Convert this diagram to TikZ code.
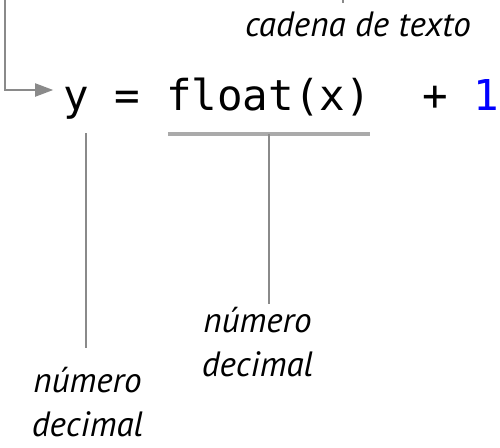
\documentclass[tikz,border=0pt]{standalone}
\usepackage{fontspec}
\setmonofont{DejaVu Sans Mono}
\newfontfamily\notefont{PT Sans}
\usepackage{tikz}
\usepackage{xcolor}
\usetikzlibrary{arrows.meta,positioning,calc}
\definecolor{ink}{HTML}{000000}
\definecolor{leadgray}{HTML}{8A8A8A}
\definecolor{bargray}{HTML}{AAAAAA}
\definecolor{litblue}{HTML}{0000FF}
\tikzset{
  codetxt/.style={font=\ttfamily\fontsize{24.2}{29}\selectfont,
                  inner sep=0pt,anchor=base west,text=ink},
  note/.style={font=\notefont\itshape\fontsize{20}{25}\selectfont,
               align=center,inner sep=0pt,text=ink},
  leader/.style={draw=leadgray,line width=1.1pt},
  leadarr/.style={leader,-{Triangle[length=3.6mm,width=2.6mm]}},
  underbar/.style={draw=bargray,line width=2.4pt}
}

\begin{document}
\begin{tikzpicture}[x=0.02cm,y=-0.02cm]
    \path[use as bounding box] (0,0) rectangle (500,447);
    \node[codetxt] (yv) at (63.2,110) {y};
    \node[codetxt] (eq) at (114.5,110) {=};
    \node[codetxt] (flt) at (165.8,110) {float(x)};
    \node[codetxt] (plus) at (422.3,110) {+};
    \node[codetxt,text=litblue] (one) at (473.6,110) {1};

    \node[note,anchor=base] (str) at (358,36) {cadena de texto};
    \coordinate (strtop) at (343,0);
    \draw[leader] (strtop) -- ($(strtop |- str.north)+(0,-8)$);

    \coordinate (src) at (5,0);
    \draw[leadarr] (src) |- ($(yv.base west)+(-10,-20)$);

    \coordinate (barL) at ($(flt.base west)+(2,24)$);
    \coordinate (barR) at ($(flt.base east)+(-1,24)$);
    \coordinate (barM) at ($(barL)!0.5!(barR)$);
    \draw[underbar] (barL) -- (barR);

    \node[note,anchor=north] (decR) at (257.5,307) {número\\decimal};
    \node[note,anchor=north] (decL) at (87.5,367) {número\\decimal};
    \coordinate (ytick) at (86,133);
    \draw[leader,shorten >=0.06cm] (barM) -- (barM |- decR.north);
    \draw[leader,shorten >=0.38cm] (ytick) -- (ytick |- decL.north);
  \end{tikzpicture}
\end{document}
